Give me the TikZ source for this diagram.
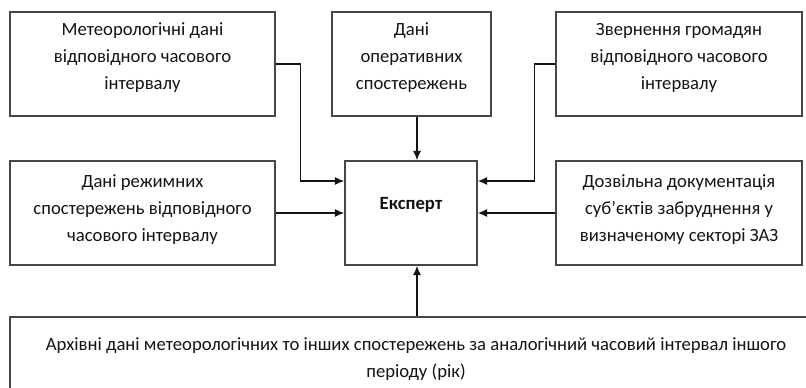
\documentclass[tikz,border=0pt]{standalone}
\usepackage{fontspec}
\setmainfont{Carlito}
\usetikzlibrary{arrows.meta}
\definecolor{frame}{RGB}{70,70,70}
\definecolor{ink}{RGB}{20,20,20}

\begin{document}
\begin{tikzpicture}[x=0.75pt,y=-0.75pt,
  box/.style={draw=frame,line width=1.1pt,inner sep=0pt,fill=white},
  txt/.style={align=center,inner sep=0pt,text=ink,font=\fontsize{14}{20.25}\selectfont},
  link/.style={ink,line width=1pt,-{Latex[length=7pt,width=6pt]}}]
\useasboundingbox (0,0) rectangle (806,387);
\clip (0,0) rectangle (806,387);
% boxes
\node[box,minimum width=198.75pt,minimum height=78pt] (met) at (142.5,64) {};
\node[box,minimum width=119.25pt,minimum height=78pt] (ops) at (411.5,64) {};
\node[box,minimum width=184.5pt,minimum height=78pt] (zvern) at (679,64) {};
\node[box,minimum width=198.75pt,minimum height=78pt] (rezh) at (142.5,213) {};
\node[box,minimum width=99pt,minimum height=78pt] (expert) at (411,213) {};
\node[box,minimum width=184.5pt,minimum height=78pt] (dozv) at (679,213) {};
\node[box,minimum width=604.5pt,minimum height=63.75pt] (arch) at (413,359.5) {};
% texts
\node[txt] (met-t) at ([yshift=4.5pt]met.center) {Метеорологічні дані\\відповідного часового\\інтервалу};
\node[txt] (ops-t) at ([yshift=4.5pt]ops.center) {Дані\\оперативних\\спостережень};
\node[txt] (zvern-t) at ([yshift=4.5pt]zvern.center) {Звернення громадян\\відповідного часового\\інтервалу};
\node[txt] (rezh-t) at ([yshift=2.25pt]rezh.center) {Дані режимних\\спостережень відповідного\\часового інтервалу};
\node[txt,font=\fontsize{14}{20.25}\selectfont\bfseries] (expert-t) at ([yshift=6pt]expert.center) {Експерт};
\node[txt] (dozv-t) at ([yshift=2.25pt]dozv.center) {Дозвільна документація\\суб’єктів забруднення у\\визначеному секторі ЗАЗ};
\node[txt] (arch-t) at ([xshift=2.25pt]arch.center) {Архівні дані метеорологічних то інших спостережень за аналогічний часовий інтервал іншого\\періоду (рік)};
% connectors
\coordinate (in-a) at ([yshift=24pt]expert.west);
\coordinate (in-c) at ([yshift=24pt]expert.east);
\coordinate (in-top) at ([xshift=4.5pt]expert.north);
\coordinate (in-bot) at ([xshift=4.5pt]expert.south);
\draw[link] (met.east) -- ++(25,0) |- (in-a);
\draw[link] (zvern.west) -- ++(-21,0) |- (in-c);
\draw[link] (ops.south -| in-top) -- (in-top);
\draw[link] (rezh.east) -- (rezh.east -| expert.west);
\draw[link] (dozv.west) -- (dozv.west -| expert.east);
\draw[link] (arch.north -| in-bot) -- (in-bot);
\end{tikzpicture}
\end{document}
